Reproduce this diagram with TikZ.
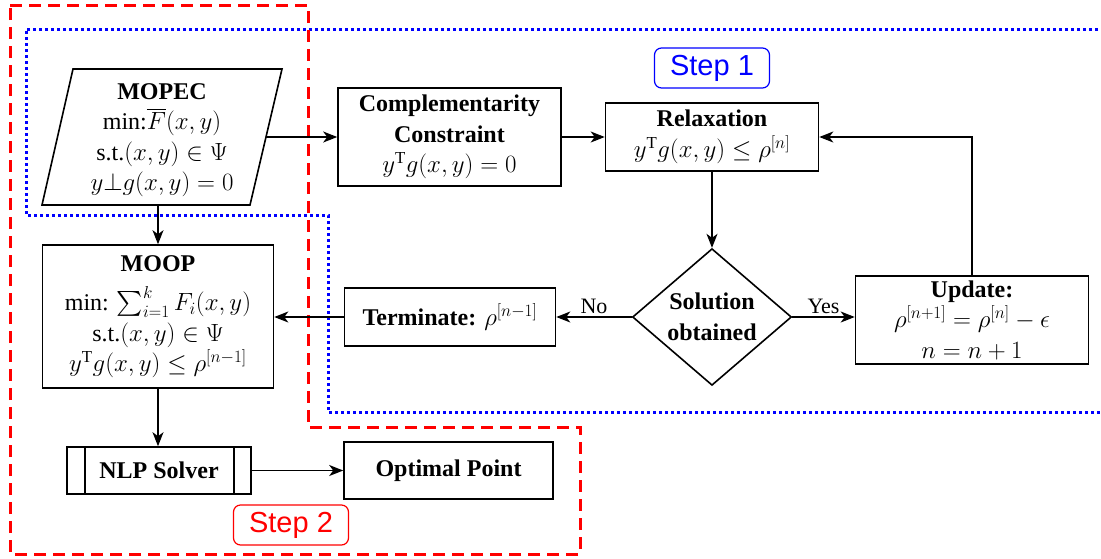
\documentclass[tikz,border=0pt]{standalone}
\usepackage{exscale}
\usepackage{fontspec}
\setmainfont{Liberation Serif}
\newfontfamily\tagfont{Liberation Sans}
\usetikzlibrary{shapes.geometric,arrows.meta}

\begin{document}
\begin{tikzpicture}[x=1pt,y=-1pt,
  every node/.style={font=\fontsize{24}{30.5}\selectfont},
  box/.style={draw, line width=1.6pt, align=center, inner sep=0pt},
  arr/.style={line width=1.7pt, -{Stealth[length=14pt,width=11pt,inset=4pt]}},
  plain/.style={line width=1.6pt},
  steptag/.style={draw, rounded corners=7pt, line width=1.2pt, minimum width=115pt,
    minimum height=40pt, inner sep=0pt, font=\tagfont\fontsize{29}{32}\selectfont},
  smalllabel/.style={font=\fontsize{22}{26}\selectfont, inner sep=2pt}
]
\useasboundingbox (0,0) rectangle (1101,558);

% region outlines
\draw[blue, line width=3pt, dash pattern=on 3pt off 3pt]
  (1098,29) -- (26,29) -- (26,215) -- (328,215) -- (328,412) -- (1101,412);
\draw[red, line width=3pt, dash pattern=on 12pt off 7pt]
  (10,5) -- (308,5) -- (308,427) -- (580,427) -- (580,554) -- (10,554) -- cycle;

% MOPEC input (parallelogram)
\coordinate (mA) at (73,69);
\coordinate (mB) at (282,69);
\coordinate (mC) at (250,205);
\coordinate (mD) at (42,205);
\draw[plain] (mA) -- (mB) -- (mC) -- (mD) -- cycle;
\node[align=center, inner sep=0pt] (mopec) at (162,140)
  {\textbf{MOPEC}\\ min:$\overline{F}(x,y)$\\ s.t.$(x,y)\in\Psi$\\ $y{\perp}g(x,y)=0$};
\coordinate (mopecR) at (266,137);
\coordinate (mopecB) at (158,205);

% step 1 boxes
\node[box, minimum width=223pt, minimum height=98pt] (comp) at (449.5,137)
  {\textbf{Complementarity}\\ \textbf{Constraint}\\ $y^{\mathrm{T}}g(x,y)=0$};
\node[box, minimum width=213pt, minimum height=68pt] (relax) at (712,137)
  {\textbf{Relaxation}\\ $y^{\mathrm{T}}g(x,y)\leq\rho^{[n]}$};
\node[draw, diamond, line width=1.6pt, minimum width=159pt, minimum height=127pt,
  inner sep=0pt, align=center] (dec) at (712,317)
  {\textbf{Solution}\\ \textbf{obtained}};
\node[box, minimum width=233pt, minimum height=88pt] (upd) at (972,320)
  {\textbf{Update:}\\ $\rho^{[n+1]}=\rho^{[n]}-\epsilon$\\ $n=n+1$};
\node[box, minimum width=211pt, minimum height=58pt] (term) at (450,317)
  {\textbf{Terminate:} $\rho^{[n-1]}$};

% step 2 boxes
\node[box, minimum width=231pt, minimum height=143pt] (moop) at (158,316.5)
  {\textbf{MOOP}\\[9pt] min: $\sum_{i=1}^{k}F_i(x,y)$\\ s.t.$(x,y)\in\Psi$\\
   $y^{\mathrm{T}}g(x,y)\leq\rho^{[n-1]}$};
\node[box, minimum width=184pt, minimum height=47pt] (nlp) at (159,470.5)
  {\textbf{NLP Solver}};
\draw[plain] ([xshift=19pt]nlp.north west) -- ([xshift=19pt]nlp.south west);
\draw[plain] ([xshift=-18pt]nlp.north east) -- ([xshift=-18pt]nlp.south east);
\node[box, minimum width=209pt, minimum height=57pt] (opt) at (448.5,470.5)
  {\textbf{Optimal Point}};

% step tags
\node[steptag, blue] (tag1) at (712,68) {Step 1};
\node[steptag, red] (tag2) at (291,525) {Step 2};

% connectors
\draw[arr] (mopecR) -- (comp.west);
\draw[arr] (comp.east) -- (relax.west);
\draw[arr] (relax.south) -- (dec.north);
\draw[arr] (dec.west) -- node[smalllabel, above] {No} (term.east);
\draw[arr] (dec.east) -- node[smalllabel, above] {Yes} (dec.east -| upd.west);
\draw[arr] (upd.north) |- (relax.east);
\draw[arr] (term.west) -- (term.west -| moop.east);
\draw[arr] (mopecB) -- (mopecB |- moop.north);
\draw[arr] (moop.south) -- (moop.south |- nlp.north);
\draw[arr] (nlp.east) -- (opt.west);
\end{tikzpicture}
\end{document}
